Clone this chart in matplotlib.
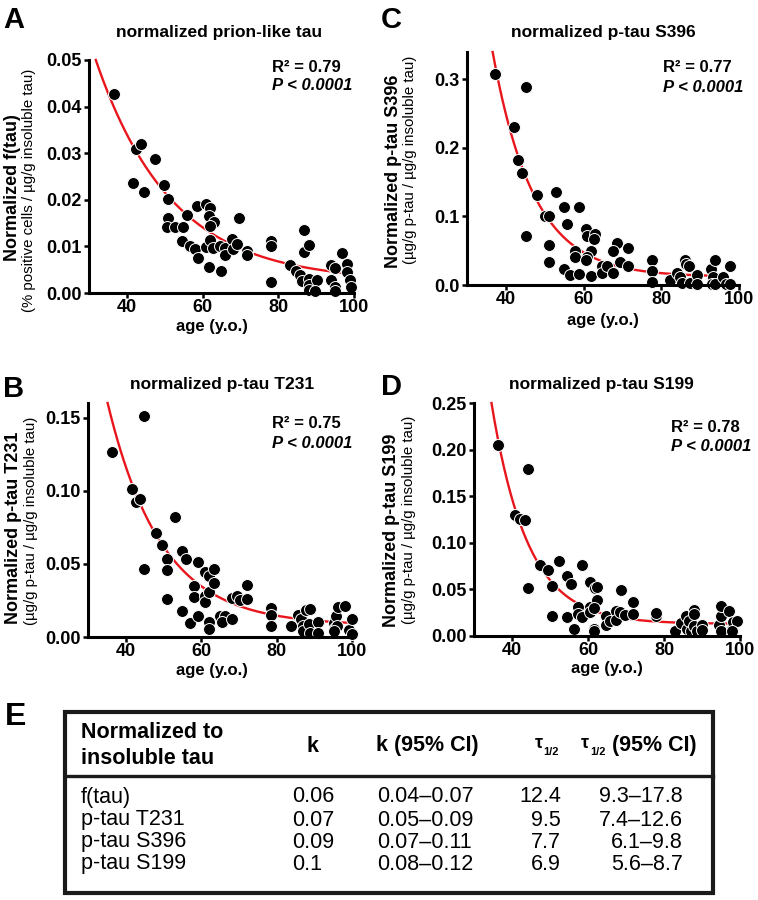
import matplotlib
matplotlib.use('Agg')
import matplotlib.pyplot as plt
import numpy as np
from matplotlib.patches import Rectangle
from matplotlib.lines import Line2D

plt.rcParams['font.family'] = ['Liberation Sans', 'DejaVu Sans']

# ---------------- data ----------------
age_A = [36.6, 41.5, 42.4, 43.7, 44.6, 47.5, 49.7, 50.8, 50.8, 50.6, 52.8, 54.8, 55.9, 54.6, 56.8,
         57.9, 58.7, 58.5, 60.8, 61.9, 61.7, 63.0, 61.9, 60.8, 61.9, 62.8, 61.7, 64.7, 65.9, 66.0,
         64.8, 67.9, 68.1, 69.0, 69.7, 71.8, 71.8, 78.0, 78.0, 78.0, 83.0, 84.8, 85.7, 86.3, 86.9,
         86.9, 88.0, 88.0, 88.0, 88.0, 90.1, 89.8, 93.8, 94.9, 94.0, 94.9, 94.9, 96.9, 98.2, 98.2,
         99.0, 99.1]
ftau_A = [0.0428, 0.0235, 0.031, 0.032, 0.0216, 0.0288, 0.0232, 0.0202, 0.016, 0.0142, 0.0142,
          0.0142, 0.0168, 0.0112, 0.0101, 0.0094, 0.0076, 0.0186, 0.0191, 0.0182, 0.0166, 0.0153,
          0.0144, 0.0098, 0.0114, 0.0096, 0.0056, 0.0101, 0.0096, 0.0081, 0.0047, 0.0115, 0.0094,
          0.0106, 0.016, 0.0091, 0.0081, 0.0112, 0.0101, 0.0024, 0.006, 0.0047, 0.0038, 0.0026,
          0.0135, 0.0088, 0.0103, 0.0029, 0.0017, 0.0006, 0.0027, 0.0004, 0.006, 0.0054, 0.0027,
          0.0013, 0.0004, 0.0085, 0.0063, 0.0045, 0.0027, 0.0013]

age_B = [36.4, 44.8, 41.7, 42.7, 43.7, 44.8, 47.9, 49.7, 51.0, 51.0, 51.0, 53.1, 54.9, 55.9, 54.9,
         57.1, 58.2, 58.2, 59.1, 59.1, 61.1, 61.1, 61.1, 62.0, 62.2, 63.3, 63.3, 62.2, 62.2, 65.1,
         66.3, 65.4, 68.2, 68.2, 69.6, 70.2, 72.2, 72.2, 78.5, 78.5, 78.5, 83.8, 85.6, 86.5, 87.1,
         87.1, 87.8, 88.9, 88.7, 88.9, 90.9, 90.9, 95.1, 95.8, 96.3, 98.1, 95.6, 96.1, 95.1, 99.2,
         100.1, 100.1]
t231_B = [0.1265, 0.151, 0.101, 0.0922, 0.0945, 0.0468, 0.0708, 0.0628, 0.0534, 0.0457, 0.026,
          0.0822, 0.0587, 0.053, 0.0176, 0.0096, 0.0352, 0.0274, 0.0511, 0.0142, 0.0443, 0.0283,
          0.0237, 0.0306, 0.0416, 0.0466, 0.037, 0.010, 0.0055, 0.0142, 0.0146, 0.010, 0.0123,
          0.0267, 0.0283, 0.0251, 0.0358, 0.026, 0.0195, 0.0153, 0.0078, 0.0073, 0.0153, 0.0123,
          0.0078, 0.0039, 0.0183, 0.0192, 0.0091, 0.0027, 0.010, 0.0027, 0.0096, 0.0146, 0.0206,
          0.021, 0.0062, 0.0078, 0.0039, 0.005, 0.0123, 0.0023]

age_C = [37.3, 45.1, 42.1, 43.2, 44.2, 45.1, 48.1, 50.0, 51.1, 51.1, 51.1, 53.0, 54.9, 55.8, 54.9,
         56.6, 57.7, 57.7, 58.7, 58.7, 60.7, 61.0, 62.9, 62.7, 61.8, 61.0, 60.7, 61.8, 64.8, 64.8,
         66.1, 67.6, 68.5, 67.6, 69.5, 71.5, 71.5, 77.5, 77.5, 77.5, 82.2, 84.1, 84.7, 85.3, 86.2,
         86.4, 87.1, 87.3, 89.3, 89.3, 92.9, 93.9, 93.3, 93.1, 93.9, 95.9, 96.7, 97.8, 97.6]
s396_C = [0.308, 0.289, 0.230, 0.183, 0.163, 0.072, 0.132, 0.100, 0.100, 0.059, 0.033, 0.135, 0.114,
          0.089, 0.024, 0.015, 0.050, 0.041, 0.114, 0.016, 0.081, 0.072, 0.075, 0.067, 0.050, 0.041,
          0.036, 0.013, 0.027, 0.017, 0.027, 0.017, 0.061, 0.050, 0.034, 0.054, 0.027, 0.037, 0.021,
          0.005, 0.007, 0.018, 0.012, 0.003, 0.037, 0.031, 0.028, 0.003, 0.015, 0.001, 0.023, 0.037,
          0.012, 0.001, 0.001, 0.012, 0.002, 0.027, 0.001]

age_D = [36.3, 44.3, 40.9, 42.0, 43.4, 44.3, 47.3, 49.6, 50.4, 50.4, 52.3, 54.4, 55.6, 54.4, 56.4,
         57.3, 57.3, 58.5, 58.5, 60.6, 60.6, 60.4, 61.8, 62.4, 62.4, 61.5, 61.5, 61.5, 64.7, 64.7,
         65.8, 67.4, 67.4, 68.4, 68.7, 69.8, 71.8, 71.8, 77.8, 77.8, 82.9, 84.6, 85.8, 86.0, 86.7,
         87.1, 87.8, 87.8, 88.0, 88.7, 89.9, 89.9, 94.4, 94.9, 94.9, 95.1, 97.1, 98.0, 98.2, 99.1,
         98.0]
s199_D = [0.205, 0.179, 0.130, 0.126, 0.124, 0.051, 0.076, 0.071, 0.054, 0.021, 0.080, 0.064, 0.056,
          0.020, 0.007, 0.031, 0.024, 0.076, 0.020, 0.058, 0.031, 0.026, 0.051, 0.053, 0.039, 0.030,
          0.008, 0.005, 0.021, 0.012, 0.016, 0.027, 0.017, 0.026, 0.049, 0.023, 0.037, 0.024, 0.021,
          0.025, 0.005, 0.014, 0.021, 0.008, 0.016, 0.005, 0.028, 0.024, 0.011, 0.005, 0.012, 0.006,
          0.012, 0.021, 0.032, 0.005, 0.027, 0.008, 0.015, 0.016, 0.005]

# one-phase decay fits: (x_start, x_end, rate k, value at x_start, plateau)
fit_A = (31.8, 97.0, 0.050, 0.0500, 0.0025)
fit_B = (35.2, 100.0, 0.070, 0.160, 0.008)
fit_C = (36.6, 97.0, 0.095, 0.340, 0.012)
fit_D = (34.6, 97.0, 0.105, 0.250, 0.013)

titles = ['normalized prion-like tau', 'normalized p-tau T231',
          'normalized p-tau S396', 'normalized p-tau S199']
ylabels_main = ['Normalized f(tau)', 'Normalized p-tau T231',
                'Normalized p-tau S396', 'Normalized p-tau S199']
ylabels_sub = ['(% positive cells / µg/g insoluble tau)', '(µg/g p-tau / µg/g insoluble tau)',
               '(µg/g p-tau / µg/g insoluble tau)', '(µg/g p-tau / µg/g insoluble tau)']
r2_texts = ['R² = 0.79', 'R² = 0.75', 'R² = 0.77', 'R² = 0.78']
p_text = 'P < 0.0001'
x_ticks = [40, 60, 80, 100]

tbl_header = ['k', 'k (95% CI)']
tbl_rows = ['f(tau)', 'p-tau T231', 'p-tau S396', 'p-tau S199']
tbl_k = ['0.06', '0.07', '0.09', '0.1']
tbl_kci = ['0.04–0.07', '0.05–0.09', '0.07–0.11', '0.08–0.12']
tbl_t = ['12.4', '9.5', '7.7', '6.9']
tbl_tci = ['9.3–17.8', '7.4–12.6', '6.1–9.8', '5.6–8.7']

# ---------------- figure ----------------
W, H = 758, 900
fig = plt.figure(figsize=(W / 100, H / 100), dpi=100)


def fx(x):
    return x / W


def fy(y):
    return 1 - y / H


def add_axes_px(l, t, r, b):
    return fig.add_axes([fx(l), fy(b), (r - l) / W, (b - t) / H])


def txt(x, y, s, **kw):
    kw.setdefault('ha', 'left')
    kw.setdefault('va', 'center')
    return fig.text(fx(x), fy(y), s, **kw)


RED = '#e8161c'


def panel(ax, ages, vals, fit, ylim, yticks, yfmt):
    x0, x1, k, top, plateau = fit
    xs = np.linspace(x0, x1, 300)
    ys = plateau + (top - plateau) * np.exp(-k * (xs - x0))
    ax.plot(xs, ys, color=RED, lw=1.7, zorder=2, clip_on=False)
    ax.scatter(ages, vals, s=74, c='black', edgecolors='white', linewidths=0.7,
               zorder=3, clip_on=False)
    ax.set_xlim(30, 100)
    ax.set_ylim(*ylim)
    ax.set_xticks(x_ticks)
    ax.set_xticklabels([str(t) for t in x_ticks])
    ax.set_yticks(yticks)
    ax.set_yticklabels([yfmt % t for t in yticks])
    for s in ['top', 'right']:
        ax.spines[s].set_visible(False)
    for s in ['left', 'bottom']:
        ax.spines[s].set_linewidth(2.2)
        ax.spines[s].set_zorder(4)
    ax.tick_params(direction='out', length=3.8, width=1.8, labelsize=13, pad=1.5)
    ax.tick_params(axis='x', pad=0.5)
    for lab in ax.get_xticklabels() + ax.get_yticklabels():
        lab.set_fontweight('bold')
    ax.patch.set_alpha(0)


axA = add_axes_px(89, 60, 354, 293)
panel(axA, age_A, ftau_A, fit_A, (0, 0.05), [0, 0.01, 0.02, 0.03, 0.04, 0.05], '%.2f')
axC = add_axes_px(467, 52, 739, 285)
panel(axC, age_C, s396_C, fit_C, (0, 0.34), [0, 0.1, 0.2, 0.3], '%.1f')
axB = add_axes_px(88, 403, 352, 637)
panel(axB, age_B, t231_B, fit_B, (0, 0.16), [0, 0.05, 0.10, 0.15], '%.2f')
axD = add_axes_px(474, 403, 740, 636)
panel(axD, age_D, s199_D, fit_D, (0, 0.25), [0, 0.05, 0.10, 0.15, 0.20, 0.25], '%.2f')

# panel letters
for lx, ly, L in [(3, 28, 'A'), (381, 28, 'C'), (3, 397, 'B'), (381, 395, 'D')]:
    txt(lx, ly, L, fontsize=21, fontweight='bold', va='baseline')
txt(5, 725, 'E', fontsize=23, fontweight='bold', va='baseline')

# titles
for cx, cy, t in [(219, 33, titles[0]), (222, 385, titles[1]),
                  (603, 33, titles[2]), (601, 385, titles[3])]:
    txt(cx, cy, t, fontsize=12.5, fontweight='bold', ha='center')

# y labels
ylab_pos = [((13, 188), (29, 190)), ((14, 528), (31, 521)),
            ((393, 171), (410, 160)), ((392, 530), (409, 520))]
for i, ((bx, by), (sx, sy)) in enumerate(ylab_pos):
    txt(bx, by, ylabels_main[i], fontsize=13, fontweight='bold', rotation=90, ha='center')
    txt(sx, sy, ylabels_sub[i], fontsize=10.8, rotation=90, ha='center')

# x labels
for cx, cy in [(212, 326), (212, 670), (603, 320), (607, 669)]:
    txt(cx, cy, 'age (y.o.)', fontsize=12, fontweight='bold', ha='center')

# R2 / P annotations
for i, (x, y1, y2) in enumerate([(272, 67, 86), (272, 424, 443), (663, 68, 87), (671, 427, 447)]):
    txt(x, y1, r2_texts[i], fontsize=12, fontweight='bold')
    txt(x, y2, p_text, fontsize=12, fontweight='bold', style='italic')

# ---------------- table E ----------------
fig.add_artist(Rectangle((fx(65), fy(893)), (713 - 65) / W, (893 - 712) / H,
                         transform=fig.transFigure, fill=False, lw=3, ec='#1a1a1a'))
fig.add_artist(Line2D([fx(65), fx(713)], [fy(776), fy(776)], transform=fig.transFigure,
                      lw=2.4, color='#1a1a1a'))

HFS = 15.5
DFS = 15.5
txt(81, 732, 'Normalized to', fontsize=HFS, fontweight='bold')
txt(81, 758, 'insoluble tau', fontsize=HFS, fontweight='bold')
txt(313, 746, tbl_header[0], fontsize=HFS, fontweight='bold', ha='center')
txt(427, 746, tbl_header[1], fontsize=HFS, fontweight='bold', ha='center')
# tau 1/2 headers
txt(539, 743, 'τ', fontsize=13, fontweight='bold', ha='center')
txt(543, 752, '1/2', fontsize=8, fontweight='bold')
txt(585, 743, 'τ', fontsize=13, fontweight='bold', ha='center')
txt(590, 752, '1/2', fontsize=8, fontweight='bold')
txt(612, 746, '(95% CI)', fontsize=HFS, fontweight='bold')

row_y = [797, 820, 842, 864]
for i, y in enumerate(row_y):
    txt(81, y, tbl_rows[i], fontsize=DFS)
    txt(292, y, tbl_k[i], fontsize=DFS)
    txt(377, y, tbl_kci[i], fontsize=DFS)
    txt(561, y, tbl_t[i], fontsize=DFS, ha='right')
    txt(683, y, tbl_tci[i], fontsize=DFS, ha='right')

fig.savefig('out.png', dpi=100)
